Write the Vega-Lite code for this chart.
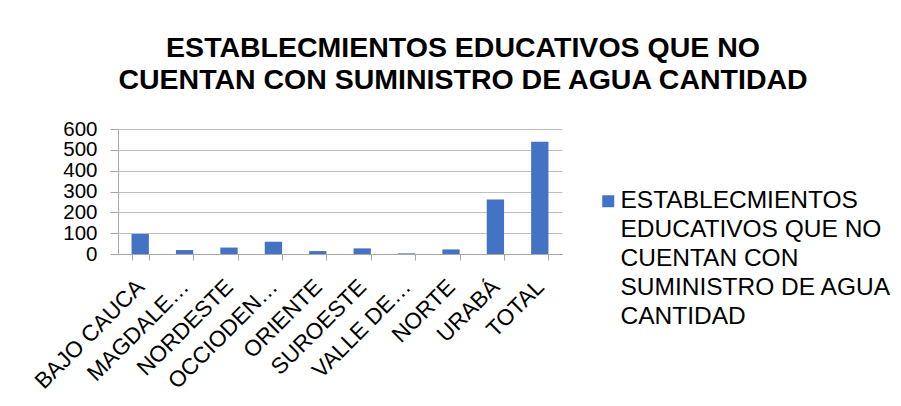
{
  "$schema": "https://vega.github.io/schema/vega-lite/v6.json",
  "width": 444,
  "height": 125,
  "autosize": "none",
  "padding": {"left": 118, "top": 129, "right": 339, "bottom": 152},
  "background": "white",
  "title": {
    "text": ["ESTABLECMIENTOS EDUCATIVOS QUE NO", "CUENTAN CON SUMINISTRO DE AGUA CANTIDAD"],
    "font": "Liberation Sans",
    "fontSize": 28.5,
    "fontWeight": "bold",
    "color": "black",
    "lineHeight": 32,
    "anchor": "middle",
    "dx": 123,
    "offset": 25
  },
  "data": {
    "values": [
      {"region": "BAJO CAUCA", "valor": 96, "serie": "ESTABLECMIENTOS EDUCATIVOS QUE NO CUENTAN CON SUMINISTRO DE AGUA CANTIDAD"},
      {"region": "MAGDALENA MEDIO", "valor": 19, "serie": "ESTABLECMIENTOS EDUCATIVOS QUE NO CUENTAN CON SUMINISTRO DE AGUA CANTIDAD"},
      {"region": "NORDESTE", "valor": 31, "serie": "ESTABLECMIENTOS EDUCATIVOS QUE NO CUENTAN CON SUMINISTRO DE AGUA CANTIDAD"},
      {"region": "OCCIODENTE", "valor": 59, "serie": "ESTABLECMIENTOS EDUCATIVOS QUE NO CUENTAN CON SUMINISTRO DE AGUA CANTIDAD"},
      {"region": "ORIENTE", "valor": 14, "serie": "ESTABLECMIENTOS EDUCATIVOS QUE NO CUENTAN CON SUMINISTRO DE AGUA CANTIDAD"},
      {"region": "SUROESTE", "valor": 27, "serie": "ESTABLECMIENTOS EDUCATIVOS QUE NO CUENTAN CON SUMINISTRO DE AGUA CANTIDAD"},
      {"region": "VALLE DE ABURRÁ", "valor": 3, "serie": "ESTABLECMIENTOS EDUCATIVOS QUE NO CUENTAN CON SUMINISTRO DE AGUA CANTIDAD"},
      {"region": "NORTE", "valor": 22, "serie": "ESTABLECMIENTOS EDUCATIVOS QUE NO CUENTAN CON SUMINISTRO DE AGUA CANTIDAD"},
      {"region": "URABÁ", "valor": 262, "serie": "ESTABLECMIENTOS EDUCATIVOS QUE NO CUENTAN CON SUMINISTRO DE AGUA CANTIDAD"},
      {"region": "TOTAL", "valor": 539, "serie": "ESTABLECMIENTOS EDUCATIVOS QUE NO CUENTAN CON SUMINISTRO DE AGUA CANTIDAD"}
    ]
  },
  "mark": {"type": "bar", "color": "#4472C4"},
  "encoding": {
    "x": {
      "field": "region",
      "type": "nominal",
      "sort": null,
      "title": null,
      "scale": {"paddingInner": 0.61, "paddingOuter": 0.305},
      "axis": {
        "labelAngle": -45,
        "labelAlign": "right",
        "labelBaseline": "middle",
        "labelFont": "Liberation Sans",
        "labelFontSize": 22.5,
        "labelColor": "black",
        "labelPadding": 23,
        "labelLimit": 300,
        "labelOverlap": false,
        "labelExpr": "datum.value == 'MAGDALENA MEDIO' ? 'MAGDALE…' : datum.value == 'OCCIODENTE' ? 'OCCIODEN…' : datum.value == 'VALLE DE ABURRÁ' ? 'VALLE DE…' : datum.value",
        "tickBand": "extent",
        "ticks": true,
        "tickSize": 6,
        "tickColor": "#a6a6a6",
        "domainColor": "#a6a6a6",
        "grid": false
      }
    },
    "y": {
      "field": "valor",
      "type": "quantitative",
      "title": null,
      "scale": {"domain": [0, 600]},
      "axis": {
        "values": [0, 100, 200, 300, 400, 500, 600],
        "labelFont": "Liberation Sans",
        "labelFontSize": 20.5,
        "labelColor": "black",
        "labelPadding": 13,
        "labelOverlap": false,
        "labelFlush": false,
        "tickSize": 8,
        "tickColor": "#a6a6a6",
        "domainColor": "#a6a6a6",
        "gridColor": "#bfbfbf",
        "labelBaseline": "middle"
      }
    },
    "color": {
      "field": "serie",
      "type": "nominal",
      "scale": {"range": ["#4472C4"]},
      "legend": {
        "title": null,
        "orient": "none",
        "legendX": 478,
        "legendY": 60,
        "symbolType": "square",
        "symbolSize": 144,
        "symbolStrokeWidth": 0,
        "labelFont": "Liberation Sans",
        "labelFontSize": 24.5,
        "labelColor": "black",
        "labelLimit": 400,
        "labelOffset": 0,
        "labelExpr": "['ESTABLECMIENTOS', 'EDUCATIVOS QUE NO', 'CUENTAN CON', 'SUMINISTRO DE AGUA', 'CANTIDAD']",
        "encode": {"labels": {"update": {"lineHeight": {"value": 29}}}}
      }
    }
  },
  "config": {
    "view": {"stroke": null},
    "axis": {"gridColor": "#bfbfbf"}
  }
}
